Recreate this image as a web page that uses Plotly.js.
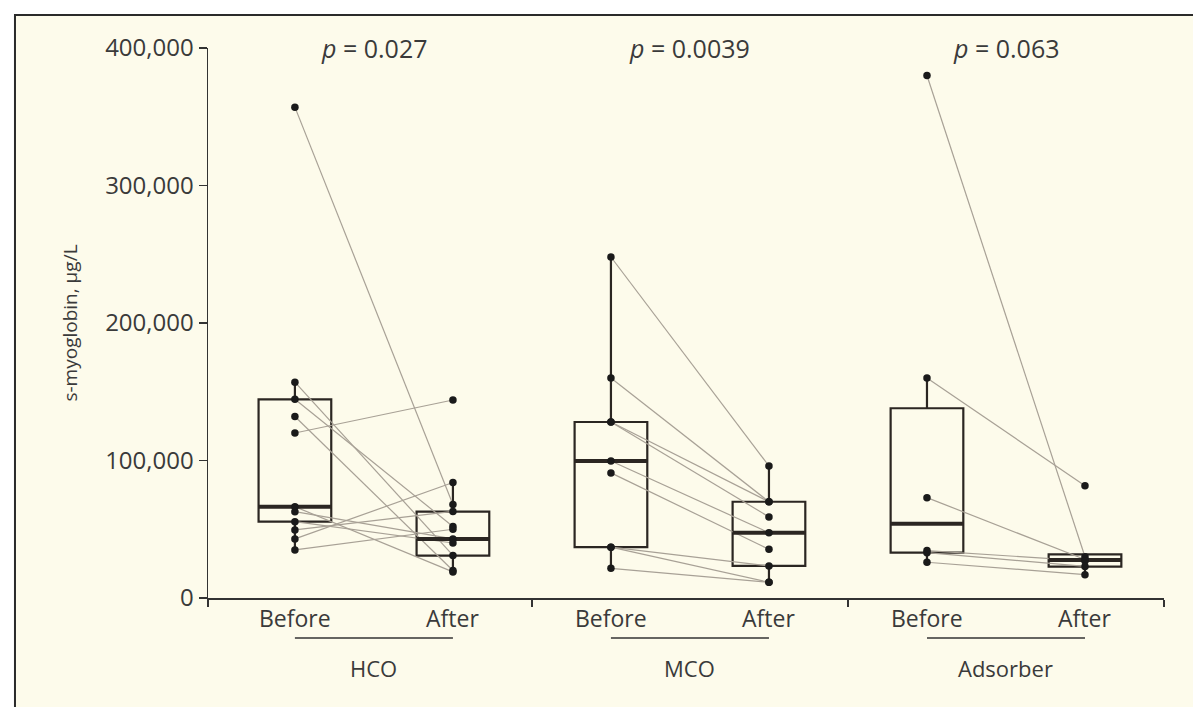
<!DOCTYPE html>
<html>
<head>
<meta charset="utf-8">
<script src="https://cdn.plot.ly/plotly-3.0.1.min.js"></script>
<style>html,body{margin:0;padding:0;background:#fff;}#chart{width:1193px;height:707px;}</style>
</head>
<body>
<div id="chart"></div>
<script>
// ---------- data ----------
const groups = ['HCO', 'MCO', 'Adsorber'];
const phases = ['Before', 'After'];
const pValues = ['0.027', '0.0039', '0.063'];

// paired patient values (µg/L); index i in Before pairs with index i in After
const hcoBefore = [357000, 157000, 144500, 132000, 120000, 66400, 62800, 55500, 49500, 43000, 35000];
const hcoAfter  = [ 68000,  31000,  52000,  20000, 144000, 19000, 43000, 40000, 63000, 84000, 50000];
const mcoBefore = [248000, 160000, 128000, 128000, 99600, 91000, 37000, 37000, 21600];
const mcoAfter  = [ 96000,  70000,  70000,  59000, 47500, 35400, 23300, 11400, 11400];
const adsBefore = [380000, 160000, 73000, 34500, 33000, 26000];
const adsAfter  = [ 30000,  81700, 28000, 27000, 23000, 17000];

// box statistics (HCO B, HCO A, MCO B, MCO A, Ads B, Ads A)
const boxQ1     = [55500, 30800, 37000, 23300, 33000, 22800];
const boxMedian = [66400, 43000, 99600, 47500, 54000, 27600];
const boxQ3     = [144500, 62800, 128000, 70000, 138000, 31800];
const boxLower  = [35000, 19000, 21600, 11400, 26000, 17000];
const boxUpper  = [157000, 84000, 248000, 96000, 160000, 31800];

const yTicks = [0, 100000, 200000, 300000, 400000];

// ---------- styling ----------
const INK = '#2b2622';
const TXT = '#3a3a3a';
const PAIR = '#a8a196';
const FONT = '"Open Sans", "DejaVu Sans", sans-serif';
const BOXW = 0.46;

const pairs = [[hcoBefore, hcoAfter], [mcoBefore, mcoAfter], [adsBefore, adsAfter]];
const positions = [1, 2, 3, 4, 5, 6];

const traces = [];

// paired connecting lines
pairs.forEach((pr, g) => {
  const xb = positions[2 * g], xa = positions[2 * g + 1];
  const xs = [], ys = [];
  pr[0].forEach((v, i) => { xs.push(xb, xa, null); ys.push(v, pr[1][i], null); });
  traces.push({type: 'scatter', mode: 'lines', x: xs, y: ys,
    line: {color: PAIR, width: 1.2}, hoverinfo: 'skip', showlegend: false});
});

// boxes
traces.push({
  type: 'box', x: positions, q1: boxQ1, median: boxMedian, q3: boxQ3,
  lowerfence: boxLower, upperfence: boxUpper, boxpoints: false,
  width: BOXW, whiskerwidth: 0, fillcolor: 'rgba(0,0,0,0)',
  line: {color: INK, width: 2.2}, showlegend: false, hoverinfo: 'skip'
});

// thicker median bars
{
  const xs = [], ys = [];
  positions.forEach((p, i) => { xs.push(p - BOXW / 2, p + BOXW / 2, null); ys.push(boxMedian[i], boxMedian[i], null); });
  traces.push({type: 'scatter', mode: 'lines', x: xs, y: ys,
    line: {color: INK, width: 4}, hoverinfo: 'skip', showlegend: false});
}

// points
pairs.forEach((pr, g) => {
  [0, 1].forEach(k => {
    traces.push({type: 'scatter', mode: 'markers',
      x: pr[k].map(() => positions[2 * g + k]), y: pr[k],
      marker: {color: '#1a1a1a', size: 7.5}, hoverinfo: 'y', showlegend: false});
  });
});

// ---------- annotations & shapes ----------
const annotations = [];
const shapes = [];

// frame with cream fill
shapes.push({type: 'rect', xref: 'paper', yref: 'paper', x0: -0.2019, x1: 1.2, y0: -0.6, y1: 1.06,
  fillcolor: '#fdfbeb', line: {color: '#2a2a2a', width: 2}, layer: 'below'});

groups.forEach((g, gi) => {
  const xb = positions[2 * gi], xa = positions[2 * gi + 1];
  phases.forEach((ph, k) => {
    annotations.push({xref: 'x', yref: 'paper', x: positions[2 * gi + k], y: 0, yshift: -20,
      text: ph, showarrow: false, font: {family: FONT, size: 23, color: TXT}, yanchor: 'middle'});
  });
  shapes.push({type: 'line', xref: 'x', yref: 'paper', ysizemode: 'pixel', yanchor: 0,
    x0: xb, x1: xa, y0: -40, y1: -40, line: {color: '#333', width: 1.3}});
  annotations.push({xref: 'x', yref: 'paper', x: (xb + xa) / 2, y: 0, yshift: -70,
    text: g, showarrow: false, font: {family: FONT, size: 22, color: TXT}, yanchor: 'middle'});
  annotations.push({xref: 'x', yref: 'paper', x: (xb + xa) / 2, y: 1, yshift: 0,
    text: '<i>p</i> = ' + pValues[gi], showarrow: false, font: {family: FONT, size: 25, color: TXT}, yanchor: 'middle'});
});

const layout = {
  width: 1193, height: 707,
  margin: {l: 208, r: 29, t: 48, b: 109},
  paper_bgcolor: '#ffffff', plot_bgcolor: 'rgba(0,0,0,0)',
  showlegend: false,
  xaxis: {range: [0.45, 6.5], tickvals: [0.45, 2.5, 4.5, 6.5], ticktext: ['', '', '', ''],
    ticks: 'outside', ticklen: 7, tickwidth: 1.5, tickcolor: '#333',
    showline: true, linecolor: '#333', linewidth: 1.5, showgrid: false, zeroline: false, fixedrange: true},
  yaxis: {range: [0, 400000], tickvals: yTicks, tickformat: ',d',
    ticks: 'outside', ticklen: 8, tickwidth: 1.5, tickcolor: '#333',
    showline: true, linecolor: '#333', linewidth: 1.5, showgrid: false, zeroline: false,
    tickfont: {family: FONT, size: 24, color: TXT},
    title: {text: 's-myoglobin, µg/L', font: {family: FONT, size: 19, color: TXT}, standoff: 22},
    fixedrange: true},
  annotations: annotations,
  shapes: shapes
};

Plotly.newPlot('chart', traces, layout, {displayModeBar: false, staticPlot: true});
</script>
</body>
</html>
